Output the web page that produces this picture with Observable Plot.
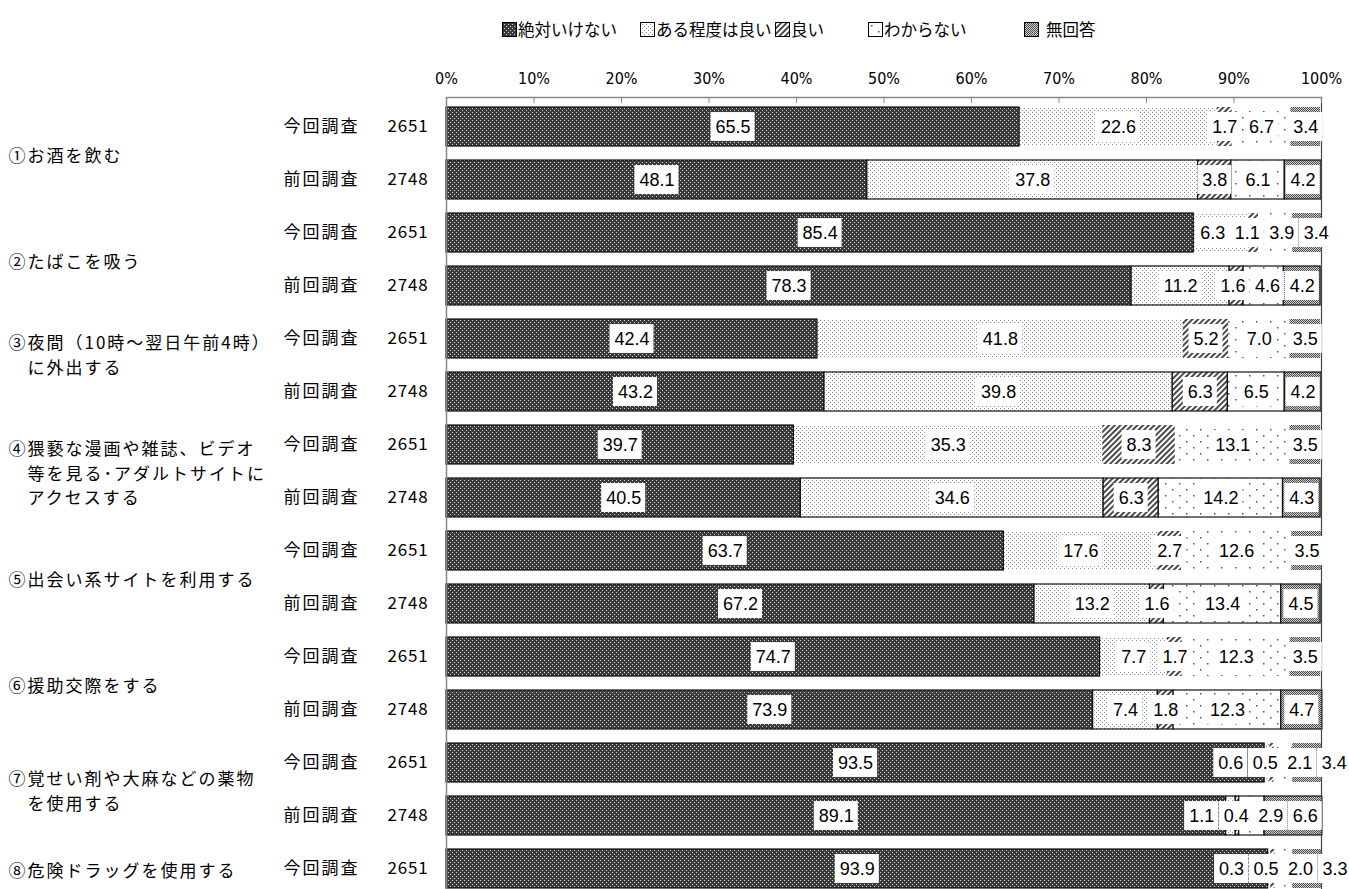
<!DOCTYPE html>
<html><head><meta charset="utf-8">
<script src="https://cdn.jsdelivr.net/npm/d3@7"></script>
<script src="https://cdn.jsdelivr.net/npm/@observablehq/plot@0.6"></script>
<style>
body{margin:0;background:#fff;overflow:hidden;width:1349px;height:889px;position:relative;font-family:"Noto Sans CJK JP",sans-serif;}
#chart{position:absolute;top:0;left:0}
#legend{position:absolute;top:0;left:0;width:1349px;height:60px;}
.li{position:absolute;top:18px;display:flex;align-items:center;font-size:16.5px;color:#000;white-space:nowrap;line-height:22px}
.li svg{margin-right:1px;display:block}
g[aria-description="jp-label"] text{letter-spacing:2px}
g[aria-description="n-label"] text{letter-spacing:0.8px}
</style></head>
<body>
<svg width="0" height="0" style="position:absolute">
<defs>
<pattern id="p0" width="4" height="4" patternUnits="userSpaceOnUse">
<rect width="4" height="4" fill="#3a3a3a"/><rect x="0" y="0" width="1" height="1" fill="#d8d8d8"/><rect x="2" y="2" width="1" height="1" fill="#d8d8d8"/>
</pattern>
<pattern id="p1" width="4" height="4" patternUnits="userSpaceOnUse">
<rect width="4" height="4" fill="#fff"/><rect x="0" y="0" width="1" height="1" fill="#8a8a8a"/><rect x="2" y="2" width="1" height="1" fill="#8a8a8a"/>
</pattern>
<pattern id="p2" width="4" height="4" patternUnits="userSpaceOnUse" patternTransform="rotate(45)">
<rect width="4" height="4" fill="#fff"/><rect x="0" y="0" width="2" height="4" fill="#4a4a4a"/>
</pattern>
<pattern id="p3" width="14" height="12" patternUnits="userSpaceOnUse">
<rect width="14" height="12" fill="#fff"/><rect x="3" y="3" width="1.5" height="1.5" fill="#555"/><rect x="10" y="9" width="1.5" height="1.5" fill="#555"/>
</pattern>
<pattern id="p4" width="2" height="2" patternUnits="userSpaceOnUse">
<rect width="2" height="2" fill="#cfcfcf"/><rect x="0" y="0" width="1" height="1" fill="#4e4e4e"/><rect x="1" y="1" width="1" height="1" fill="#4e4e4e"/>
</pattern>
</defs>
</svg>
<div id="chart"></div>
<div id="legend"></div>
<script>
// ---- data ----
const categories = ["絶対いけない", "ある程度は良い", "良い", "わからない", "無回答"];
const questions = [
  "①お酒を飲む",
  "②たばこを吸う",
  "③夜間（10時～翌日午前4時）\n　に外出する\n",
  "④猥褻な漫画や雑誌、ビデオ\n　等を見る･アダルトサイトに\n　アクセスする",
  "⑤出会い系サイトを利用する",
  "⑥援助交際をする",
  "⑦覚せい剤や大麻などの薬物\n　を使用する",
  "⑧危険ドラッグを使用する"
];
const waves = ["今回調査", "前回調査"];
const waveN = [2651, 2748];
// rows: question index & wave index, top to bottom
const rowQuestion = [0,0,1,1,2,2,3,3,4,4,5,5,6,6,7];
const rowWave     = [0,1,0,1,0,1,0,1,0,1,0,1,0,1,0];
const zettai   = [65.5, 48.1, 85.4, 78.3, 42.4, 43.2, 39.7, 40.5, 63.7, 67.2, 74.7, 73.9, 93.5, 89.1, 93.9];
const aruteido = [22.6, 37.8, 6.3, 11.2, 41.8, 39.8, 35.3, 34.6, 17.6, 13.2, 7.7, 7.4, 0.6, 1.1, 0.3];
const yoi      = [1.7, 3.8, 1.1, 1.6, 5.2, 6.3, 8.3, 6.3, 2.7, 1.6, 1.7, 1.8, 0.5, 0.4, 0.5];
const wakaranai= [6.7, 6.1, 3.9, 4.6, 7.0, 6.5, 13.1, 14.2, 12.6, 13.4, 12.3, 12.3, 2.1, 2.9, 2.0];
const mukaito  = [3.4, 4.2, 3.4, 4.2, 3.5, 4.2, 3.5, 4.3, 3.5, 4.5, 3.5, 4.7, 3.4, 6.6, 3.3];
const tickValues = [0,10,20,30,40,50,60,70,80,90,100];

const series = [zettai, aruteido, yoi, wakaranai, mukaito];
const patterns = ["url(#p0)","url(#p1)","url(#p2)","url(#p3)","url(#p4)"];

// ---- layout ----
const W = 1349, H = 900, mL = 446, mR = 28, mT = 97, mB = 2;
const padIn = 0.27, padOut = 0.11;
const nRows = rowQuestion.length;
const step = (H - mT - mB) / (nRows - padIn + 2*padOut);
const bandW = step * (1 - padIn);
const pxPerPct = (W - mL - mR) / 100;
const rowIds = rowQuestion.map((q,i) => "r" + i);

// segments
const segs = [];
rowIds.forEach((id, ri) => {
  let acc = 0;
  categories.forEach((c, ci) => {
    const v = series[ci][ri];
    segs.push({row: id, cat: c, x1: acc, x2: acc + v, v, wave: rowWave[ri]});
    acc += v;
  });
});

// labels with overlap spreading
const ctx = document.createElement("canvas").getContext("2d");
const labelFamily = '"Liberation Sans", Arial, sans-serif';
const labelSize = 18;
ctx.font = labelSize + "px " + labelFamily;
function spread(items, gap) {
  let cl = items.map(it => [it]);
  const place = g => {
    const tot = d3.sum(g, d => d.w) + gap * (g.length - 1);
    let s = d3.mean(g, d => d.c) - tot / 2;
    g.forEach(d => { d.lx = s + d.w / 2; s += d.w + gap; });
  };
  let merged = true;
  while (merged) {
    merged = false;
    cl.forEach(place);
    for (let i = 0; i < cl.length - 1; i++) {
      const a = cl[i][cl[i].length - 1], b = cl[i + 1][0];
      if (a.lx + a.w / 2 + gap > b.lx - b.w / 2) {
        cl.splice(i, 2, cl[i].concat(cl[i + 1]));
        merged = true;
        break;
      }
    }
  }
}
const labels = [];
rowIds.forEach(id => {
  const items = segs.filter(s => s.row === id).map(s => {
    const t = s.v.toFixed(1);
    return {row: id, t, c: (s.x1 + s.x2) / 2, w: (ctx.measureText(t).width + 9) / pxPerPct};
  });
  spread(items, 0.5 / pxPerPct);
  labels.push(...items);
});

const rowInfo = rowIds.map((id, i) => ({row: id, wave: waves[rowWave[i]], n: String(waveN[rowWave[i]])}));
const qPaired = [], qSingle = [];
questions.forEach((q, qi) => {
  const idx = rowQuestion.indexOf(qi);
  const count = rowQuestion.filter(v => v === qi).length;
  (count === 2 ? qPaired : qSingle).push({row: rowIds[idx], label: q});
});

const jp = '"Noto Sans CJK JP", sans-serif';
const boxInset = (bandW - 29) / 2;
const chart = Plot.plot({
  width: W, height: H,
  marginLeft: mL, marginRight: mR, marginTop: mT, marginBottom: mB,
  style: {background: "white", color: "black", fontFamily: jp},
  x: {domain: [0, 100], axis: null},
  y: {domain: rowIds, paddingInner: padIn, paddingOuter: padOut, axis: null},
  color: {domain: categories, range: patterns},
  marks: [
    Plot.barX(segs.filter(s => !(s.wave === 1 || s.cat === categories[0])), {x1: "x1", x2: "x2", y: "row", fill: "cat"}),
    Plot.barX(segs.filter(s => (s.wave === 1 || s.cat === categories[0])), {x1: "x1", x2: "x2", y: "row", fill: "cat", stroke: "#111", strokeWidth: 1.2}),
    Plot.ruleX([0], {stroke: "#888", strokeWidth: 1.5}),
    Plot.ruleX([100], {stroke: "#444", strokeWidth: 1.2}),
    Plot.frame({anchor: "top", stroke: "#888", strokeWidth: 1.5}),
    Plot.ruleX(tickValues, {x: d => d, stroke: "#888", insetBottom: (H - mT - mB) - 6}),
    Plot.text(tickValues, {x: d => d, frameAnchor: "top", dy: -25, text: d => d + "%", fontFamily: '"Liberation Sans Narrow", "DejaVu Sans Condensed", sans-serif', fontSize: 16}),
    Plot.barX(labels, {x1: d => d.lx - d.w / 2, x2: d => d.lx + d.w / 2, y: "row", fill: "white", insetTop: boxInset, insetBottom: boxInset}),
    Plot.text(labels, {x: "lx", y: "row", text: "t", fontFamily: labelFamily, fontSize: labelSize, fill: "black"}),
    Plot.text(rowInfo, {y: "row", text: "wave", frameAnchor: "left", dx: 283 - mL, textAnchor: "start", fontSize: 17, ariaDescription: "jp-label"}),
    Plot.text(rowInfo, {y: "row", text: "n", frameAnchor: "left", dx: 387 - mL, textAnchor: "start", fontSize: 17, ariaDescription: "n-label"}),
    Plot.text(qPaired, {y: "row", text: "label", frameAnchor: "left", dx: 8 - mL, dy: step / 2, textAnchor: "start", fontSize: 17, lineHeight: 1.45, ariaDescription: "jp-label"}),
    Plot.text(qSingle, {y: "row", text: "label", frameAnchor: "left", dx: 8 - mL, textAnchor: "start", fontSize: 17, lineHeight: 1.45, ariaDescription: "jp-label"})
  ]
});
document.getElementById("chart").appendChild(chart);

// legend
const legendLeft = [502, 640, 775, 868, 1024];
const lg = document.getElementById("legend");
categories.forEach((c, i) => {
  const d = document.createElement("div");
  d.className = "li";
  d.style.left = legendLeft[i] + "px";
  d.innerHTML = `<svg width="15" height="15"><rect x="0.5" y="0.5" width="14" height="14" fill="${patterns[i]}" stroke="#000" stroke-width="1"/></svg><span style="margin-left:${i === 4 ? 6 : 0}px">${c}</span>`;
  lg.appendChild(d);
});
</script>
</body></html>
